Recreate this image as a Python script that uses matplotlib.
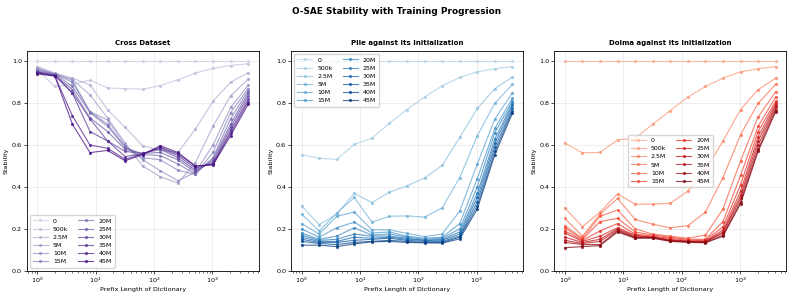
import numpy as np
import matplotlib
matplotlib.use("Agg")
import matplotlib.pyplot as plt

# prefix lengths of the dictionary (x axis)
prefix = [1, 2, 4, 8, 16, 32, 64, 128, 256, 512, 1024, 2048, 4096]
steps = ["0", "500k", "2.5M", "5M", "10M", "15M", "20M", "25M", "30M", "35M", "40M", "45M"]

# Cross Dataset
cross = [
    [1.0, 1.0, 1.0, 1.0, 1.0, 1.0, 1.0, 1.0, 1.0, 1.0, 1.0, 1.0, 1.0],
    [0.96, 0.88, 0.89, 0.91, 0.873, 0.87, 0.867, 0.884, 0.912, 0.944, 0.967, 0.98, 0.989],
    [0.975, 0.945, 0.92, 0.888, 0.769, 0.685, 0.597, 0.575, 0.564, 0.677, 0.81, 0.90, 0.946],
    [0.97, 0.94, 0.915, 0.84, 0.73, 0.61, 0.50, 0.449, 0.419, 0.516, 0.69, 0.835, 0.915],
    [0.965, 0.94, 0.91, 0.76, 0.72, 0.60, 0.53, 0.478, 0.43, 0.47, 0.60, 0.78, 0.885],
    [0.96, 0.94, 0.90, 0.76, 0.70, 0.59, 0.54, 0.53, 0.48, 0.46, 0.565, 0.755, 0.87],
    [0.955, 0.94, 0.88, 0.755, 0.69, 0.59, 0.555, 0.55, 0.51, 0.462, 0.54, 0.725, 0.86],
    [0.95, 0.935, 0.865, 0.73, 0.665, 0.58, 0.56, 0.565, 0.53, 0.47, 0.53, 0.70, 0.848],
    [0.95, 0.935, 0.85, 0.725, 0.62, 0.57, 0.56, 0.58, 0.54, 0.48, 0.52, 0.685, 0.835],
    [0.948, 0.932, 0.848, 0.665, 0.62, 0.545, 0.56, 0.585, 0.55, 0.49, 0.512, 0.67, 0.82],
    [0.945, 0.93, 0.74, 0.60, 0.585, 0.532, 0.558, 0.59, 0.558, 0.50, 0.508, 0.658, 0.808],
    [0.94, 0.93, 0.70, 0.564, 0.575, 0.525, 0.555, 0.597, 0.565, 0.50, 0.505, 0.645, 0.795],
]

# Pile against its Initialization
pile = [
    [1.0, 1.0, 1.0, 1.0, 1.0, 1.0, 1.0, 1.0, 1.0, 1.0, 1.0, 1.0, 1.0],
    [0.555, 0.537, 0.532, 0.603, 0.633, 0.705, 0.77, 0.83, 0.883, 0.923, 0.95, 0.965, 0.975],
    [0.31, 0.22, 0.27, 0.37, 0.325, 0.375, 0.405, 0.443, 0.503, 0.637, 0.775, 0.87, 0.925],
    [0.27, 0.19, 0.275, 0.35, 0.232, 0.26, 0.262, 0.256, 0.30, 0.445, 0.645, 0.80, 0.89],
    [0.225, 0.175, 0.26, 0.28, 0.195, 0.195, 0.178, 0.163, 0.175, 0.285, 0.51, 0.725, 0.85],
    [0.20, 0.16, 0.205, 0.232, 0.18, 0.185, 0.165, 0.155, 0.16, 0.225, 0.44, 0.68, 0.825],
    [0.18, 0.15, 0.165, 0.205, 0.17, 0.175, 0.16, 0.15, 0.155, 0.20, 0.40, 0.66, 0.81],
    [0.17, 0.145, 0.15, 0.175, 0.165, 0.165, 0.155, 0.145, 0.15, 0.185, 0.37, 0.63, 0.80],
    [0.16, 0.14, 0.14, 0.16, 0.155, 0.16, 0.15, 0.145, 0.145, 0.175, 0.35, 0.61, 0.79],
    [0.15, 0.135, 0.135, 0.145, 0.15, 0.155, 0.145, 0.14, 0.14, 0.165, 0.33, 0.59, 0.775],
    [0.14, 0.13, 0.125, 0.135, 0.14, 0.145, 0.14, 0.135, 0.135, 0.16, 0.31, 0.57, 0.765],
    [0.122, 0.122, 0.115, 0.128, 0.138, 0.14, 0.135, 0.133, 0.132, 0.152, 0.295, 0.555, 0.752],
]

# Dolma against its Initialization
dolma = [
    [1.0, 1.0, 1.0, 1.0, 1.0, 1.0, 1.0, 1.0, 1.0, 1.0, 1.0, 1.0, 1.0],
    [0.61, 0.563, 0.565, 0.625, 0.633, 0.70, 0.765, 0.83, 0.88, 0.92, 0.95, 0.965, 0.975],
    [0.30, 0.21, 0.28, 0.367, 0.318, 0.318, 0.322, 0.38, 0.48, 0.62, 0.77, 0.865, 0.92],
    [0.25, 0.165, 0.27, 0.345, 0.245, 0.222, 0.205, 0.215, 0.28, 0.445, 0.65, 0.80, 0.89],
    [0.215, 0.155, 0.26, 0.29, 0.20, 0.175, 0.165, 0.155, 0.17, 0.295, 0.525, 0.735, 0.855],
    [0.205, 0.15, 0.235, 0.25, 0.185, 0.17, 0.16, 0.15, 0.15, 0.235, 0.455, 0.69, 0.83],
    [0.19, 0.145, 0.19, 0.225, 0.175, 0.165, 0.155, 0.145, 0.145, 0.21, 0.41, 0.665, 0.81],
    [0.18, 0.14, 0.165, 0.205, 0.17, 0.16, 0.15, 0.14, 0.14, 0.195, 0.38, 0.64, 0.80],
    [0.16, 0.135, 0.15, 0.20, 0.165, 0.16, 0.145, 0.14, 0.14, 0.185, 0.36, 0.62, 0.79],
    [0.145, 0.13, 0.14, 0.195, 0.16, 0.16, 0.145, 0.14, 0.138, 0.18, 0.345, 0.60, 0.78],
    [0.135, 0.125, 0.125, 0.19, 0.158, 0.158, 0.142, 0.138, 0.135, 0.17, 0.33, 0.58, 0.77],
    [0.11, 0.115, 0.12, 0.185, 0.155, 0.155, 0.14, 0.135, 0.133, 0.165, 0.32, 0.57, 0.76],
]

panels = [
    ("Cross Dataset", cross, "Purples", "lower left"),
    ("Pile against its Initialization", pile, "Blues", "upper left"),
    ("Dolma against its Initialization", dolma, "Reds", "center"),
]

fig = plt.figure(figsize=(7.93, 2.95), dpi=100)
lefts = [0.0337, 0.367, 0.699]
for (title, data, cmap_name, loc), left in zip(panels, lefts):
    ax = fig.add_axes([left, 0.0824, 0.2925, 0.745])
    cmap = plt.get_cmap(cmap_name)
    colors = cmap(np.linspace(0.3, 0.95, len(steps)))
    for i, lab in enumerate(steps):
        ax.plot(prefix, data[i], marker="o", markersize=1.3, linewidth=0.8,
                color=colors[i], alpha=0.75, label=lab)
    ax.set_xscale("log")
    ax.set_ylim(0, 1.05)
    ax.set_yticks([0.0, 0.2, 0.4, 0.6, 0.8, 1.0])
    ax.grid(True, alpha=0.3, linewidth=0.5)
    ax.set_title(title, fontsize=5.0, fontweight="bold", pad=4)
    ax.set_xlabel("Prefix Length of Dictionary", fontsize=4.6, labelpad=1.5)
    ax.set_ylabel("Stability", fontsize=4.6, labelpad=2)
    ax.tick_params(labelsize=4.6, length=2, width=0.5, pad=1.5)
    ax.tick_params(which="minor", length=1.2, width=0.4)
    for sp in ax.spines.values():
        sp.set_linewidth(0.6)
    ax.legend(loc=loc, ncol=2, fontsize=4.5, handlelength=2.4, borderpad=0.5,
              labelspacing=0.45, columnspacing=1.6, framealpha=0.8)

fig.suptitle("O-SAE Stability with Training Progression", fontsize=6.4,
             fontweight="bold", y=0.975)
fig.savefig("out.png", dpi=100)
